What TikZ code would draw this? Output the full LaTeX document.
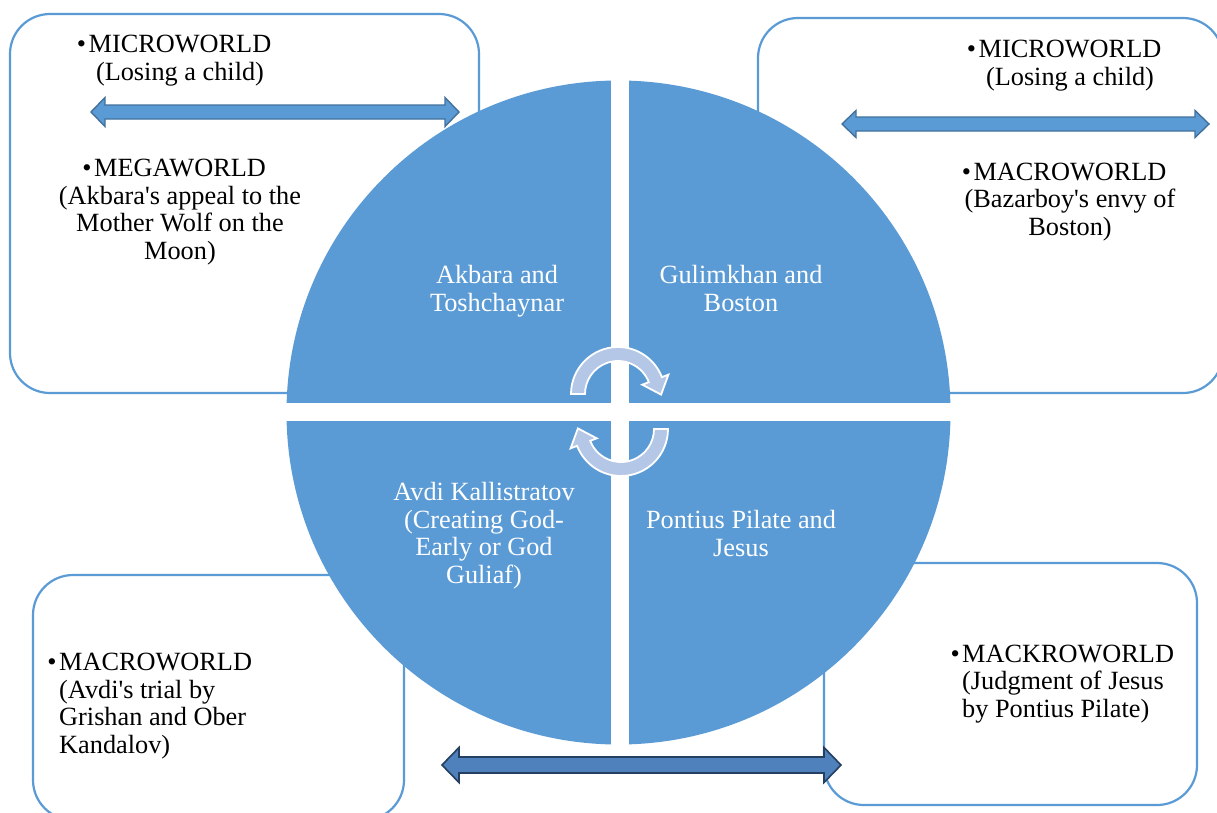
\documentclass[tikz,border=0pt]{standalone}
\usepackage{fontspec}
\setmainfont{Liberation Serif}
\definecolor{circblue}{HTML}{5B9BD5}
\definecolor{boxline}{HTML}{5B9BD5}
\definecolor{arrline}{HTML}{41719C}
\definecolor{darkfill}{HTML}{4F81BD}
\definecolor{darkline}{HTML}{243F60}
\definecolor{cycfill}{HTML}{B4C7E7}
\newcommand\apos{\textquotesingle{}}
\newcommand\bul{\llap{\textbullet\hspace{2.5pt}}}
\begin{document}
\begin{tikzpicture}[x=1pt,y=-1pt,
  framebox/.style={draw=boxline, line width=2.2pt, rounded corners=40pt, fill=white, inner sep=0pt},
  txt/.style={font=\fontsize{26.3}{27.4}\selectfont, inner sep=0pt, anchor=base},
  ctxt/.style={txt, align=center},
  ltxt/.style={txt, align=left, anchor=base west},
  wtxt/.style={ctxt, text=white},
  barrow/.style={fill=circblue, draw=arrline, line width=1.4pt, line join=miter},
  darrow/.style={fill=darkfill, draw=darkline, line width=1.6pt, line join=miter},
  cyc/.style={fill=cycfill, draw=white, line width=1.8pt, line join=miter}]
\useasboundingbox (0,0) rectangle (1217,812);
\fill[white] (0,0) rectangle (1217,812);
\begin{scope}
\clip (0,0) rectangle (1217,812);
\node[framebox, minimum width=469pt, minimum height=379pt] (tlbox) at (244.5,203.5) {};
\node[framebox, minimum width=465pt, minimum height=375pt] (trbox) at (990.5,205.5) {};
\node[framebox, minimum width=371pt, minimum height=245pt] (blbox) at (218.5,697.5) {};
\node[framebox, minimum width=373pt, minimum height=242pt] (brbox) at (1010.5,684) {};
\end{scope}
% wheel
\node[circle, fill=circblue, minimum size=664pt, inner sep=0pt] (wheel) at (618.5,412.5) {};
\begin{scope}
\clip (618.5,412.5) circle[radius=333];
\fill[white] (610.5,60) rectangle (628.5,770);
\fill[white] (270,403) rectangle (970,421);
\end{scope}
% quadrant labels (anchor = baseline of last line)
\node[wtxt] (q1) at (497,311) {Akbara and\\Toshchaynar};
\node[wtxt] (q2) at (741,311) {Gulimkhan and\\Boston};
\node[wtxt] (q3) at (484,583) {Avdi Kallistratov\\(Creating God-\\Early or God\\Guliaf)};
\node[wtxt] (q4) at (741,556) {Pontius Pilate and\\Jesus};
% circular arrows
\path[cyc, shift={(618,394)}] (180:47) arc[start angle=180, end angle=339, radius=47]
  -- (339:54) -- (43.1,0.6) -- (339:26) -- (339:33)
  arc[start angle=339, end angle=180, radius=33] -- cycle;
\begin{scope}[rotate around={180:(619.5,411.5)}]
\path[cyc, shift={(618,394)}] (180:47) arc[start angle=180, end angle=339, radius=47]
  -- (339:54) -- (43.1,0.6) -- (339:26) -- (339:33)
  arc[start angle=339, end angle=180, radius=33] -- cycle;
\end{scope}
% box texts
\node[ctxt] (tl1) at (180,80) {\bul MICROWORLD\\(Losing a child)};
\node[ctxt] (tl2) at (180,259) {\bul MEGAWORLD\\(Akbara\apos s appeal to the\\Mother Wolf on the\\Moon)};
\node[ctxt] (tr1) at (1070,85) {\bul MICROWORLD\\(Losing a child)};
\node[ctxt] (tr2) at (1070,235) {\bul MACROWORLD\\(Bazarboy\apos s envy of\\Boston)};
\node[ltxt] (bl1) at (59,753) {\bul MACROWORLD\\(Avdi\apos s trial by\\Grishan and Ober\\Kandalov)};
\node[ltxt] (br1) at (962,717) {\bul MACKROWORLD\\(Judgment of Jesus\\by Pontius Pilate)};
% block arrows
\draw[barrow] (91,112) -- (105,97.5) -- (105,105) -- (445,105) -- (445,97.5) -- (459,112)
  -- (445,126.5) -- (445,119) -- (105,119) -- (105,126.5) -- cycle;
\draw[barrow] (842,124) -- (856,110.5) -- (856,117) -- (1195,117) -- (1195,110.5) -- (1209,124)
  -- (1195,137.5) -- (1195,131) -- (856,131) -- (856,137.5) -- cycle;
\draw[darrow] (442,765) -- (459,747.5) -- (459,757) -- (824,757) -- (824,747.5) -- (841,765)
  -- (824,782.5) -- (824,773) -- (459,773) -- (459,782.5) -- cycle;
\end{tikzpicture}
\end{document}
